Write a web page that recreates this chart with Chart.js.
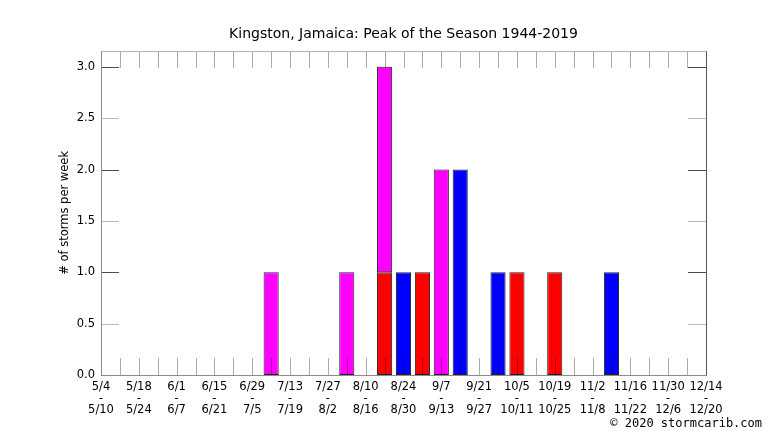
<!DOCTYPE html>
<html>
<head>
<meta charset="utf-8">
<title>Kingston, Jamaica: Peak of the Season 1944-2019</title>
<script src="https://cdn.jsdelivr.net/npm/chart.js@4.4.1/dist/chart.umd.min.js"></script>
<style>
  body { margin: 0; background: #fff; }
  #wrap { position: relative; width: 766px; height: 431px; }
  #copy {
    position: absolute; right: 4px; top: 416px;
    font: 12px "DejaVu Sans Mono", monospace; color: #000;
  }
</style>
</head>
<body>
<div id="wrap">
  <canvas id="peakChart" width="766" height="431"></canvas>
  <div id="copy">© 2020 stormcarib.com</div>
</div>
<script>
const weekStart = ['5/4', '5/11', '5/18', '5/25', '6/1', '6/8', '6/15', '6/22', '6/29', '7/6', '7/13',
    '7/20', '7/27', '8/3', '8/10', '8/17', '8/24', '8/31', '9/7', '9/14', '9/21', '9/28', '10/5',
    '10/12', '10/19', '10/26', '11/2', '11/9', '11/16', '11/23', '11/30', '12/7', '12/14'];
const weekEnd = ['5/10', '5/17', '5/24', '5/31', '6/7', '6/14', '6/21', '6/28', '7/5', '7/12', '7/19',
    '7/26', '8/2', '8/9', '8/16', '8/23', '8/30', '9/6', '9/13', '9/20', '9/27', '10/4', '10/11',
    '10/18', '10/25', '11/1', '11/8', '11/15', '11/22', '11/29', '12/6', '12/13', '12/20'];

// storms per week, by colour class
const redStorms = [null, null, null, null, null, null, null, null, null, null, null,
    null, null, null, null, 1, null, 1, null, null, null, null, 1,
    null, 1, null, null, null, null, null, null, null, null];
const magentaStorms = [null, null, null, null, null, null, null, null, null, 1, null,
    null, null, 1, null, 2, null, null, 2, null, null, null, null,
    null, null, null, null, null, null, null, null, null, null];
const blueStorms = [null, null, null, null, null, null, null, null, null, null, null,
    null, null, null, null, null, 1, null, null, 2, null, 1, null,
    null, null, null, null, 1, null, null, null, null, null];

const yTicks = [0, 0.5, 1, 1.5, 2, 2.5, 3];

// inner tick marks and frame, drawn on top of the bars
const frameTicks = {
    id: 'frameTicks',
    afterDatasetsDraw(chart) {
        const { ctx, chartArea: a, scales } = chart;
        ctx.save();
        ctx.lineWidth = 1;

        ctx.strokeStyle = 'rgba(0,0,0,0.33)';
        for (let i = 0; i < weekStart.length; i++) {
            const x = Math.round(scales.x.getPixelForValue(i)) + 0.5;
            ctx.beginPath();
            ctx.moveTo(x, a.top);
            ctx.lineTo(x, a.top + 17);
            ctx.moveTo(x, a.bottom);
            ctx.lineTo(x, a.bottom - 17);
            ctx.stroke();
        }

        yTicks.forEach(v => {
            const y = Math.round(scales.y.getPixelForValue(v)) + 0.5;
            ctx.strokeStyle = Number.isInteger(v) ? 'rgba(0,0,0,0.7)' : 'rgba(0,0,0,0.28)';
            ctx.beginPath();
            ctx.moveTo(a.left, y);
            ctx.lineTo(a.left + 18, y);
            ctx.moveTo(a.right, y);
            ctx.lineTo(a.right - 18, y);
            ctx.stroke();
        });

        const l = Math.round(a.left) + 0.5, r = Math.round(a.right) + 0.5;
        const t = Math.round(a.top) + 0.5, b = Math.round(a.bottom) + 0.5;
        ctx.strokeStyle = '#b4b4b4';
        ctx.beginPath(); ctx.moveTo(l, t); ctx.lineTo(r, t); ctx.stroke();
        ctx.strokeStyle = '#8c8c8c';
        ctx.beginPath(); ctx.moveTo(l, t); ctx.lineTo(l, b); ctx.lineTo(r, b); ctx.stroke();
        ctx.strokeStyle = '#555';
        ctx.beginPath(); ctx.moveTo(r, t); ctx.lineTo(r, b); ctx.stroke();
        ctx.restore();
    }
};

const ctx = document.getElementById('peakChart').getContext('2d');
new Chart(ctx, {
    type: 'bar',
    data: {
        labels: weekStart,
        datasets: [
            { label: 'red', data: redStorms, backgroundColor: '#ff0000' },
            { label: 'magenta', data: magentaStorms, backgroundColor: '#ff00ff' },
            { label: 'blue', data: blueStorms, backgroundColor: '#0000ff' }
        ].map(d => Object.assign(d, {
            borderColor: '#222',
            borderWidth: 1,
            borderSkipped: false,
            categoryPercentage: 0.8,
            barPercentage: 1
        }))
    },
    options: {
        responsive: false,
        devicePixelRatio: 1,
        animation: false,
        layout: { padding: { left: 0, right: 60, top: 0, bottom: 0 } },
        plugins: {
            legend: { display: false },
            tooltip: { enabled: false },
            title: {
                display: true,
                fullSize: false,
                text: 'Kingston, Jamaica: Peak of the Season 1944-2019',
                color: '#000',
                font: { family: 'DejaVu Sans', size: 14, weight: 'normal', lineHeight: 1.2 },
                padding: { top: 25.5, bottom: 8.5 }
            }
        },
        scales: {
            x: {
                stacked: true,
                offset: false,
                grid: { display: false },
                border: { display: false },
                ticks: {
                    autoSkip: false,
                    maxRotation: 0,
                    minRotation: 0,
                    padding: -2,
                    color: '#000',
                    font: { family: 'DejaVu Sans', size: 11.5, lineHeight: 1.02 },
                    callback: (v, i) => i % 2 === 0 ? [weekStart[i], '-', weekEnd[i]] : ''
                },
                afterFit: s => { s.height = 56; }
            },
            y: {
                stacked: true,
                min: 0,
                max: 3.156,
                grid: { display: false, drawTicks: false },
                border: { display: false },
                afterBuildTicks: s => { s.ticks = yTicks.map(v => ({ value: v })); },
                ticks: {
                    padding: 6,
                    color: '#000',
                    font: { family: 'DejaVu Sans', size: 11.5 },
                    callback: v => v.toFixed(1)
                },
                title: {
                    display: true,
                    text: '# of storms per week',
                    color: '#000',
                    font: { family: 'DejaVu Sans', size: 11.5 },
                    padding: { top: 58, bottom: 0 }
                },
                afterFit: s => { s.width = 101; }
            }
        }
    },
    plugins: [frameTicks]
});
</script>
</body>
</html>
